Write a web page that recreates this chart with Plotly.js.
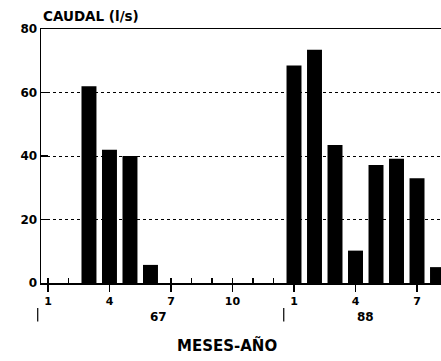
<!DOCTYPE html>
<html><head><meta charset="utf-8">
<script src="https://cdn.plot.ly/plotly-3.0.1.min.js"></script>
<style>html,body{margin:0;padding:0;background:#fff;}</style>
</head><body><div id="chart" style="width:441px;height:361px;"></div>
<script>
// month index (1 = Jan 1967, 13 = Jan 1988)
const months = [3, 4, 5, 6, 13, 14, 15, 16, 17, 18, 19, 20];
const caudal = [62, 42, 40, 5.7, 68.5, 73.5, 43.5, 10.2, 37.2, 39.1, 33, 5];
const tickVals = [1, 4, 7, 10, 13, 16, 19];
const tickText = ['1', '4', '7', '10', '1', '4', '7'];
const years = ['67', '88'];
const yearCenters = [6.4, 16.5];
const yearBreaks = [0.5, 12.5];
const xRange = [0.66, 20.17];
const yTicks = [0, 20, 40, 60, 80];

const F = {family: 'DejaVu Sans', weight: 'bold', color: '#000'};
const toPaper = v => (v - xRange[0]) / (xRange[1] - xRange[0]);

const trace = {
  type: 'bar', x: months, y: caudal,
  marker: {color: '#000', line: {width: 0}},
  hoverinfo: 'none'
};
// dummy trace for overlay axis
const trace2 = {type: 'scatter', x: [xRange[0]], y: [0], xaxis: 'x2', mode: 'none', showlegend: false, hoverinfo: 'none'};

const annotations = years.map((t, i) => ({
  text: t, xref: 'x', yref: 'paper', x: yearCenters[i], y: -0.135,
  showarrow: false, font: Object.assign({}, F, {size: 12}), xanchor: 'center', yanchor: 'middle'
}));
annotations.push({
  text: 'CAUDAL (l/s)', xref: 'paper', yref: 'paper', x: 0, y: 1, xanchor: 'left', yanchor: 'bottom',
  yshift: 3, showarrow: false, font: Object.assign({}, F, {size: 13.5})
});
annotations.push({
  text: 'MESES-AÑO', xref: 'paper', yref: 'paper', x: 0.464, y: -0.245, xanchor: 'center', yanchor: 'middle',
  showarrow: false, font: Object.assign({}, F, {size: 15})
});

const shapes = yearBreaks.map(b => ({
  type: 'line', xref: 'paper', yref: 'paper', x0: toPaper(b), x1: toPaper(b), y0: -0.098, y1: -0.152,
  line: {color: '#000', width: 1.2}
}));

const layout = {
  width: 441, height: 361,
  margin: {l: 41, r: 0, t: 29, b: 78},
  paper_bgcolor: '#fff', plot_bgcolor: '#fff',
  showlegend: false, bargap: 0.27,
  xaxis: {
    range: xRange, tickvals: tickVals, ticktext: tickText,
    ticks: 'outside', ticklen: 7, tickwidth: 1.5, tickcolor: '#000',
    showline: true, mirror: true, linecolor: '#000', linewidth: 1.5,
    showgrid: false, zeroline: false,
    tickfont: Object.assign({}, F, {size: 11})
  },
  xaxis2: {
    overlaying: 'x', matches: 'x', range: xRange, dtick: 1, tick0: 1,
    ticks: 'inside', ticklen: 5, tickwidth: 1.2, tickcolor: '#000',
    showticklabels: false, showline: false, showgrid: false, zeroline: false, side: 'bottom'
  },
  yaxis: {
    range: [0, 80], tickvals: yTicks,
    ticks: 'inside', ticklen: 7, tickwidth: 1.2, tickcolor: '#000',
    showline: true, linecolor: '#000', linewidth: 1.5,
    showgrid: true, gridcolor: '#000', gridwidth: 1, griddash: 'dot',
    zeroline: false,
    tickfont: Object.assign({}, F, {size: 12})
  },
  annotations: annotations,
  shapes: shapes
};

Plotly.newPlot('chart', [trace, trace2], layout, {staticPlot: true});
</script>
</body></html>
